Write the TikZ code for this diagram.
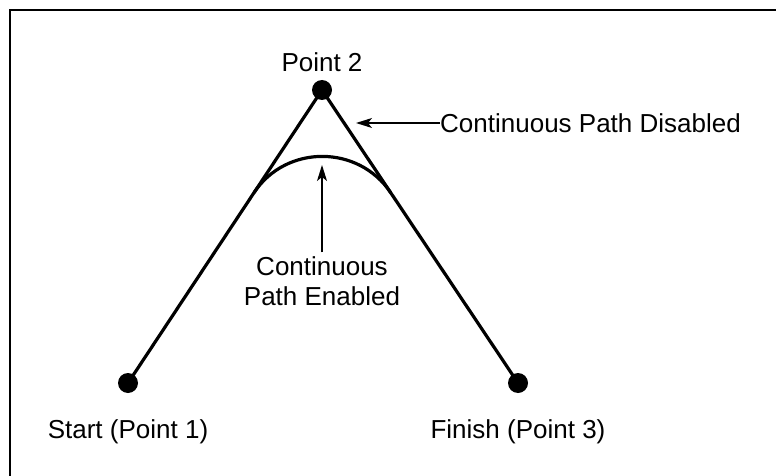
\documentclass[tikz,border=0pt]{standalone}
\usepackage{fontspec}
\setmainfont{Liberation Sans}
\usetikzlibrary{arrows.meta,calc}
\begin{document}
\begin{tikzpicture}[x=1pt,y=-1pt,
  pathline/.style={line width=3.2pt,line cap=round},
  pointdot/.style={circle,fill=black,inner sep=0pt,minimum size=20pt},
  lbl/.style={font=\fontsize{26}{30}\selectfont,inner sep=0pt},
  callout/.style={line width=1.3pt,-{Stealth[length=16pt,width=10pt,inset=4pt]}}]
\useasboundingbox (0,0) rectangle (776,476);
\draw[line width=2.8pt] (776,10) -- (10,10) -- (10,476);
\node[pointdot] (p1) at (128,383) {};
\node[pointdot] (p2) at (322,90) {};
\node[pointdot] (p3) at (518,383) {};
\draw[pathline] (p1.center) -- (p2.center) -- (p3.center);
\coordinate (cs) at ($(p1.center)!0.65!(p2.center)$);
\coordinate (ce) at ($(p3.center)!0.65!(p2.center)$);
\draw[pathline] (cs) .. controls ($(cs)!0.47!(p2.center)$) and ($(ce)!0.47!(p2.center)$) .. (ce);
\node[lbl] (t2) at (322,62) {Point 2};
\node[lbl] (t1) at (128,432) {Start (Point 1)};
\node[lbl] (t3) at (518,432) {Finish (Point 3)};
\node[lbl,anchor=west] (td) at (440,123) {Continuous Path Disabled};
\node[lbl,align=center] (te) at (322,281) {Continuous\\Path Enabled};
\coordinate (dtip) at (356,123);
\coordinate (etip) at (322,165);
\draw[callout] (td.west) -- (dtip);
\draw[callout] (te.north) ++(0,-4) -- (etip);
\end{tikzpicture}
\end{document}
